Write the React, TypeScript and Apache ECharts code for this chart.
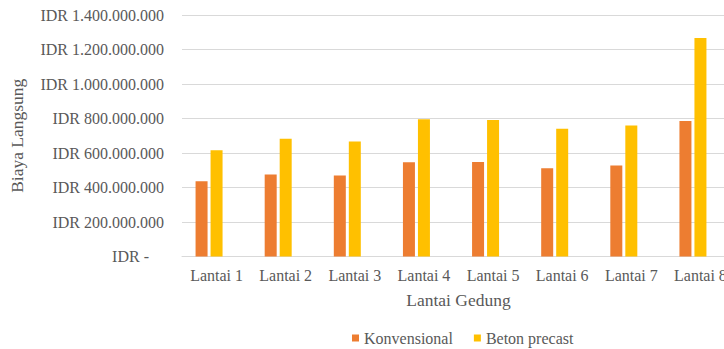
import React, { useEffect, useRef } from "react";
import * as echarts from "echarts";

const categories = ["Lantai 1", "Lantai 2", "Lantai 3", "Lantai 4", "Lantai 5", "Lantai 6", "Lantai 7", "Lantai 8"];
const konvensional = [436000000, 475000000, 469000000, 547000000, 548000000, 512000000, 527000000, 785000000];
const betonPrecast = [616000000, 682000000, 667000000, 795000000, 792000000, 740000000, 760000000, 1266000000];
const emptySeries = [null, null, null, null, null, null, null, null];
const yTicks = { min: 0, max: 1400000000, interval: 200000000 };

const FONT = "'Liberation Serif', serif";
const TEXT = "#595959";

function formatIdr(v: number): string {
  if (v === 0) return "{z|IDR -}";
  const s = Math.round(v).toString().replace(/\B(?=(\d{3})+(?!\d))/g, ".");
  return "IDR " + s;
}

export default function App() {
  const ref = useRef<HTMLDivElement>(null);

  useEffect(() => {
    if (!ref.current) return;
    const chart = echarts.init(ref.current, undefined, { renderer: "svg" });
    chart.setOption({
      animation: false,
      backgroundColor: "#ffffff",
      textStyle: { fontFamily: FONT, color: TEXT },
      grid: { left: 181, right: 0, top: 15, bottom: 92.5, containLabel: false },
      legend: {
        left: 347,
        top: 325,
        itemWidth: 7,
        itemHeight: 7,
        itemGap: 21,
        icon: "rect",
        formatter: "{s|{name}}",
        textStyle: {
          fontFamily: FONT,
          fontSize: 16,
          color: TEXT,
          rich: { s: { fontFamily: FONT, fontSize: 16, color: TEXT } },
        },
        data: ["Konvensional", "Beton precast"],
      },
      xAxis: {
        type: "category",
        data: categories,
        name: "Lantai Gedung",
        nameLocation: "middle",
        nameGap: 34,
        nameTextStyle: { fontFamily: FONT, fontSize: 17.5, color: TEXT },
        axisLine: { show: true, lineStyle: { color: "#D9D9D9", width: 1 } },
        axisTick: { show: false },
        axisLabel: { fontFamily: FONT, fontSize: 16, color: TEXT, margin: 11, interval: 0 },
      },
      yAxis: {
        type: "value",
        min: yTicks.min,
        max: yTicks.max,
        interval: yTicks.interval,
        name: "Biaya Langsung",
        nameLocation: "middle",
        nameGap: 156,
        nameTextStyle: { fontFamily: FONT, fontSize: 17.5, color: TEXT },
        axisLine: { show: false },
        axisTick: { show: false },
        splitLine: { lineStyle: { color: "#D9D9D9", width: 1 } },
        axisLabel: {
          fontFamily: FONT,
          fontSize: 16,
          color: TEXT,
          margin: 18,
          formatter: formatIdr,
          rich: { z: { fontFamily: FONT, fontSize: 16, color: TEXT, padding: [0, 15, 0, 0] } },
        },
      },
      series: [
        {
          name: "Konvensional",
          type: "bar",
          data: konvensional,
          barWidth: 12,
          barGap: "25%",
          itemStyle: { color: "#ED7D31" },
        },
        {
          name: "Beton precast",
          type: "bar",
          data: betonPrecast,
          barWidth: 12,
          barGap: "25%",
          itemStyle: { color: "#FFC000" },
        },
        {
          name: "spacer",
          type: "bar",
          data: emptySeries,
          barWidth: 12,
          barGap: "25%",
          itemStyle: { color: "transparent" },
        },
      ],
    });
    return () => chart.dispose();
  }, []);

  // The plot runs a little past the right edge, so the last label is cut by the frame.
  return (
    <div style={{ position: "absolute", left: 0, top: 0, width: 724, height: 349, overflow: "hidden", background: "#fff" }}>
      <div ref={ref} style={{ position: "absolute", left: 0, top: 0, width: 735, height: 349 }} />
    </div>
  );
}
